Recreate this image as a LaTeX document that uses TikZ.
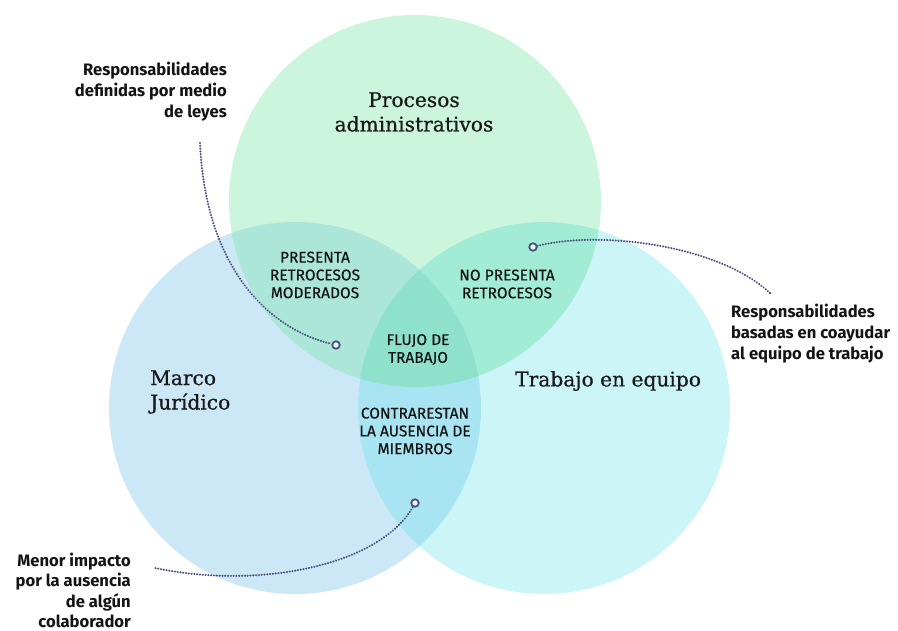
\documentclass[tikz,border=0pt]{standalone}
\usepackage{fontspec}
\setmainfont{DejaVu Serif}
\setsansfont{Fira Sans}
\newfontfamily\ttlfont[FakeBold=0.6]{DejaVu Serif}
\newfontfamily\regfont[FakeBold=0.4]{Fira Sans}
\begin{document}
\begin{tikzpicture}[x=1pt,y=-1pt,
  reg/.style={font=\regfont\fontsize{15.5}{17.8}\selectfont, text=black!92, align=center, inner sep=0pt},
  ttl/.style={font=\ttlfont\fontsize{20.2}{24.5}\selectfont, text=black!90, inner sep=0pt},
  call/.style={font=\sffamily\bfseries\fontsize{16.6}{21}\selectfont, text=black!92, inner sep=0pt},
  lead/.style={draw=leadc, line width=2.3pt, line cap=round, dash pattern=on 0.01pt off 2.8pt},
  ring/.style={circle, draw=leadc, line width=1.8pt, fill=white!60!cyan!20, minimum size=7.5pt, inner sep=0pt}]
\definecolor{cT}{HTML}{CCF5DD}
\definecolor{cL}{HTML}{CCE8F6}
\definecolor{cR}{HTML}{CCF5F8}
\definecolor{cTL}{HTML}{ABE6D8}
\definecolor{cTR}{HTML}{A2ECD5}
\definecolor{cLR}{HTML}{A9E4F2}
\definecolor{cTLR}{HTML}{8EE2CC}
\definecolor{leadc}{HTML}{4B4F80}
\useasboundingbox (0,0) rectangle (898,630);
\fill[white] (0,0) rectangle (898,630);
\coordinate (A) at (415,201);
\coordinate (B) at (295,408);
\coordinate (C) at (544,408);
\def\rr{186}
\fill[cT] (A) circle (\rr);
\fill[cL] (B) circle (\rr);
\fill[cR] (C) circle (\rr);
\begin{scope}
  \clip (A) circle (\rr);
  \fill[cTL] (B) circle (\rr);
  \fill[cTR] (C) circle (\rr);
\end{scope}
\begin{scope}
  \clip (B) circle (\rr);
  \fill[cLR] (C) circle (\rr);
  \clip (C) circle (\rr);
  \fill[cTLR] (A) circle (\rr);
\end{scope}
% titles
\node[ttl, align=center] (tA) at (414,112) {Procesos\\administrativos};
\node[ttl, align=left, anchor=west] (tB) at (150,392) {Marco\\Jurídico};
\node[ttl, anchor=west] (tC) at (515,381) {Trabajo en equipo};
% region labels
\node[reg] (rTL) at (315,275) {PRESENTA\\RETROCESOS\\MODERADOS};
\node[reg] (rTR) at (507,284) {NO PRESENTA\\RETROCESOS};
\node[reg] (rTLR) at (418,349.5) {FLUJO DE\\TRABAJO};
\node[reg] (rLR) at (415,431) {CONTRARESTAN\\LA AUSENCIA DE\\MIEMBROS};
% callouts
\node[call, align=right, anchor=east] (c1) at (227,92) {Responsabilidades\\definidas por medio\\de leyes\hspace{4pt}};
\node[call, align=left, anchor=west] (c2) at (731,334) {Responsabilidades\\basadas en coayudar\\al equipo de trabajo};
\node[call, align=right, anchor=east, font=\sffamily\bfseries\fontsize{16.6}{20.6}\selectfont] (c3) at (131,590.5) {Menor impacto\\por la ausencia\\de algún\\colaborador};
% leader lines
\coordinate (s1) at (200,143);
\coordinate (s2) at (771,294);
\coordinate (s3) at (155,568);
\node[ring] (p1) at (336,345) {};
\node[ring] (p2) at (533,247) {};
\node[ring] (p3) at (415,503) {};
\draw[lead] (s1) .. controls (205,260) and (262,327) .. (p1);
\draw[lead] (p2) .. controls (600,230) and (720,245) .. (s2);
\draw[lead] (p3) .. controls (380,565) and (260,590) .. (s3);
\end{tikzpicture}
\end{document}
